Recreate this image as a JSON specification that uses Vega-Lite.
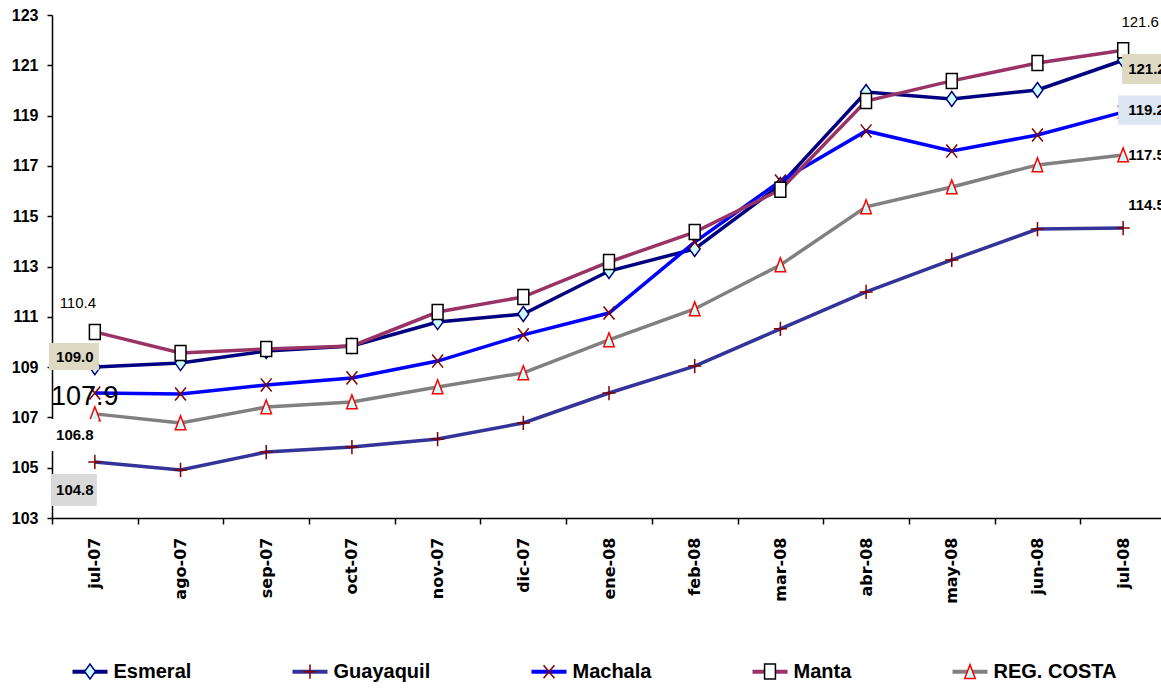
{
  "$schema": "https://vega.github.io/schema/vega-lite/v6.json",
  "width": 1109,
  "height": 503,
  "autosize": {"type": "none"},
  "padding": {"left": 52, "top": 15, "right": 0, "bottom": 170},
  "background": "white",
  "config": {
    "view": {"stroke": null},
    "axis": {"grid": false, "title": null, "domainColor": "black", "tickColor": "black", "labelColor": "black", "domainWidth": 1.5, "tickWidth": 1.5},
    "legend": {"orient": "none", "legendX": 18.5, "legendY": 637, "direction": "horizontal", "title": null, "labelFont": "Liberation Sans", "labelFontWeight": "bold", "labelFontSize": 20, "labelColor": "black", "labelOffset": 4, "columnPadding": 99, "padding": 0, "labelLimit": 300}
  },
  "datasets": {
    "series": [
      {"month": "jul-07", "series": "Esmeral", "value": 109.0},
      {"month": "ago-07", "series": "Esmeral", "value": 109.16},
      {"month": "sep-07", "series": "Esmeral", "value": 109.64},
      {"month": "oct-07", "series": "Esmeral", "value": 109.84},
      {"month": "nov-07", "series": "Esmeral", "value": 110.79},
      {"month": "dic-07", "series": "Esmeral", "value": 111.11},
      {"month": "ene-08", "series": "Esmeral", "value": 112.82},
      {"month": "feb-08", "series": "Esmeral", "value": 113.7},
      {"month": "mar-08", "series": "Esmeral", "value": 116.24},
      {"month": "abr-08", "series": "Esmeral", "value": 119.94},
      {"month": "may-08", "series": "Esmeral", "value": 119.66},
      {"month": "jun-08", "series": "Esmeral", "value": 120.02},
      {"month": "jul-08", "series": "Esmeral", "value": 121.2},
      {"month": "jul-07", "series": "Guayaquil", "value": 105.23},
      {"month": "ago-07", "series": "Guayaquil", "value": 104.91},
      {"month": "sep-07", "series": "Guayaquil", "value": 105.62},
      {"month": "oct-07", "series": "Guayaquil", "value": 105.82},
      {"month": "nov-07", "series": "Guayaquil", "value": 106.14},
      {"month": "dic-07", "series": "Guayaquil", "value": 106.78},
      {"month": "ene-08", "series": "Guayaquil", "value": 107.97},
      {"month": "feb-08", "series": "Guayaquil", "value": 109.04},
      {"month": "mar-08", "series": "Guayaquil", "value": 110.52},
      {"month": "abr-08", "series": "Guayaquil", "value": 111.99},
      {"month": "may-08", "series": "Guayaquil", "value": 113.26},
      {"month": "jun-08", "series": "Guayaquil", "value": 114.49},
      {"month": "jul-08", "series": "Guayaquil", "value": 114.53},
      {"month": "jul-07", "series": "Machala", "value": 107.97},
      {"month": "ago-07", "series": "Machala", "value": 107.93},
      {"month": "sep-07", "series": "Machala", "value": 108.29},
      {"month": "oct-07", "series": "Machala", "value": 108.57},
      {"month": "nov-07", "series": "Machala", "value": 109.24},
      {"month": "dic-07", "series": "Machala", "value": 110.28},
      {"month": "ene-08", "series": "Machala", "value": 111.15},
      {"month": "feb-08", "series": "Machala", "value": 113.97},
      {"month": "mar-08", "series": "Machala", "value": 116.4},
      {"month": "abr-08", "series": "Machala", "value": 118.39},
      {"month": "may-08", "series": "Machala", "value": 117.59},
      {"month": "jun-08", "series": "Machala", "value": 118.23},
      {"month": "jul-08", "series": "Machala", "value": 119.14},
      {"month": "jul-07", "series": "Manta", "value": 110.4},
      {"month": "ago-07", "series": "Manta", "value": 109.56},
      {"month": "sep-07", "series": "Manta", "value": 109.72},
      {"month": "oct-07", "series": "Manta", "value": 109.84},
      {"month": "nov-07", "series": "Manta", "value": 111.19},
      {"month": "dic-07", "series": "Manta", "value": 111.79},
      {"month": "ene-08", "series": "Manta", "value": 113.18},
      {"month": "feb-08", "series": "Manta", "value": 114.37},
      {"month": "mar-08", "series": "Manta", "value": 116.05},
      {"month": "abr-08", "series": "Manta", "value": 119.58},
      {"month": "may-08", "series": "Manta", "value": 120.38},
      {"month": "jun-08", "series": "Manta", "value": 121.09},
      {"month": "jul-08", "series": "Manta", "value": 121.6},
      {"month": "jul-07", "series": "REG. COSTA", "value": 107.14},
      {"month": "ago-07", "series": "REG. COSTA", "value": 106.78},
      {"month": "sep-07", "series": "REG. COSTA", "value": 107.41},
      {"month": "oct-07", "series": "REG. COSTA", "value": 107.61},
      {"month": "nov-07", "series": "REG. COSTA", "value": 108.21},
      {"month": "dic-07", "series": "REG. COSTA", "value": 108.77},
      {"month": "ene-08", "series": "REG. COSTA", "value": 110.08},
      {"month": "feb-08", "series": "REG. COSTA", "value": 111.31},
      {"month": "mar-08", "series": "REG. COSTA", "value": 113.06},
      {"month": "abr-08", "series": "REG. COSTA", "value": 115.37},
      {"month": "may-08", "series": "REG. COSTA", "value": 116.16},
      {"month": "jun-08", "series": "REG. COSTA", "value": 117.04},
      {"month": "jul-08", "series": "REG. COSTA", "value": 117.43}
    ],
    "labels": [
      {"month": "jul-07", "pos": 111.55, "label": "110.4"},
      {"month": "jul-07", "pos": 109.42, "label": "109.0"},
      {"month": "jul-07", "pos": 107.81, "label": "107.9"},
      {"month": "jul-07", "pos": 106.3, "label": "106.8"},
      {"month": "jul-07", "pos": 104.11, "label": "104.8"},
      {"month": "jul-08", "pos": 122.72, "label": "121.6"},
      {"month": "jul-08", "pos": 120.85, "label": "121.2"},
      {"month": "jul-08", "pos": 119.22, "label": "119.2"},
      {"month": "jul-08", "pos": 117.43, "label": "117.5"},
      {"month": "jul-08", "pos": 115.45, "label": "114.5"}
    ]
  },
  "encoding": {
    "x": {
      "field": "month", "type": "ordinal",
      "sort": ["jul-07","ago-07","sep-07","oct-07","nov-07","dic-07","ene-08","feb-08","mar-08","abr-08","may-08","jun-08","jul-08"],
      "scale": {"type": "band", "paddingInner": 0, "paddingOuter": 0, "range": [0, 1114]},
      "axis": {"labelAngle": -90, "labelFont": "DejaVu Sans", "labelFontWeight": "bold", "labelFontSize": 16, "tickBand": "extent", "tickSize": 6, "labelPadding": 13}
    }
  },
  "layer": [
    {
      "data": {"name": "series"},
      "mark": {"type": "line", "strokeWidth": 3.5},
      "encoding": {
        "y": {"field": "value", "type": "quantitative", "scale": {"domain": [103, 123], "nice": false, "zero": false},
              "axis": {"values": [103,105,107,109,111,113,115,117,119,121,123], "labelFont": "Liberation Sans", "labelFontWeight": "bold", "labelFontSize": 16, "tickSize": 5, "labelPadding": 9}},
        "color": {"field": "series", "type": "nominal",
          "scale": {"range": ["#000080","#333399","#0000FF","#993366","#808080"]},
          "legend": {"symbolType": "stroke", "symbolSize": 1225, "symbolStrokeWidth": 4, "columnPadding": 93}}
      }
    },
    {
      "data": {"name": "series"},
      "mark": {"type": "point", "size": 1406, "strokeWidth": 1.5, "opacity": 1, "filled": true},
      "encoding": {
        "y": {"field": "value", "type": "quantitative"},
        "shape": {"field": "series", "type": "nominal",
          "scale": {"domain": ["Esmeral","Guayaquil","Machala","Manta","REG. COSTA"],
                    "range": ["M0,-0.4L0.29,0L0,0.4L-0.29,0Z", "M-0.35,0H0.35M0,-0.38V0.38", "M-0.29,-0.35L0.29,0.35M-0.29,0.35L0.29,-0.35", "M-0.29,-0.4H0.29V0.4H-0.29Z", "M0,-0.38L0.28,0.36H-0.28Z"]},
          "legend": {"symbolSize": 1406, "symbolStrokeWidth": 1.5, "labelOpacity": 0}},
        "stroke": {"field": "series", "type": "nominal",
          "scale": {"domain": ["Esmeral","Guayaquil","Machala","Manta","REG. COSTA"], "range": ["#000080","#800000","#800000","#000000","#FF0000"]},
          "legend": {"symbolSize": 1406, "symbolStrokeWidth": 1.5, "labelOpacity": 0}},
        "fill": {"field": "series", "type": "nominal",
          "scale": {"domain": ["Esmeral","Guayaquil","Machala","Manta","REG. COSTA"], "range": ["#CCFFFF","#800000","#800000","#FFFFFF","#CCFFFF"]},
          "legend": {"symbolSize": 1406, "symbolStrokeWidth": 1.5, "labelOpacity": 0}}
      }
    },
    {
      "data": {"name": "labels"},
      "transform": [{"filter": {"field": "label", "equal": "106.8"}}],
      "mark": {"type": "point", "shape": "M-1,-0.58H1V0.58H-1Z", "size": 3025, "filled": true, "fill": "white", "strokeWidth": 0, "opacity": 1, "xOffset": -24},
      "encoding": {"y": {"field": "pos", "type": "quantitative"}}
    },
    {
      "data": {"name": "labels"},
      "transform": [{"filter": {"field": "label", "equal": "109.0"}}],
      "mark": {"type": "point", "shape": "M-1,-0.54H1V0.54H-1Z", "size": 2500, "filled": true, "fill": "#DDD9C3", "strokeWidth": 0, "opacity": 1, "xOffset": -21},
      "encoding": {"y": {"field": "pos", "type": "quantitative"}}
    },
    {
      "data": {"name": "labels"},
      "transform": [{"filter": {"field": "label", "equal": "104.8"}}],
      "mark": {"type": "point", "shape": "M-0.92,-0.64H0.92V0.64H-0.92Z", "size": 2500, "filled": true, "fill": "#D9D9D9", "strokeWidth": 0, "opacity": 1, "xOffset": -21},
      "encoding": {"y": {"field": "pos", "type": "quantitative"}}
    },
    {
      "data": {"name": "labels"},
      "transform": [{"filter": {"field": "label", "equal": "121.2"}}],
      "mark": {"type": "point", "shape": "M-0.92,-0.6H0.92V0.6H-0.92Z", "size": 2500, "filled": true, "fill": "#DDD9C3", "strokeWidth": 0, "opacity": 1, "xOffset": 22},
      "encoding": {"y": {"field": "pos", "type": "quantitative"}}
    },
    {
      "data": {"name": "labels"},
      "transform": [{"filter": {"field": "label", "equal": "119.2"}}],
      "mark": {"type": "point", "shape": "M-1,-0.56H1V0.56H-1Z", "size": 2704, "filled": true, "fill": "#DCE6F2", "strokeWidth": 0, "opacity": 1, "xOffset": 21},
      "encoding": {"y": {"field": "pos", "type": "quantitative"}}
    },
    {
      "data": {"name": "labels"},
      "transform": [{"filter": {"field": "label", "oneOf": ["109.0", "106.8", "104.8"]}}],
      "mark": {"type": "text", "font": "Liberation Sans", "fontWeight": "bold", "fontSize": 15, "align": "center", "baseline": "middle", "dx": -20, "color": "black"},
      "encoding": {"y": {"field": "pos", "type": "quantitative"}, "text": {"field": "label"}}
    },
    {
      "data": {"name": "labels"},
      "transform": [{"filter": {"field": "label", "equal": "110.4"}}],
      "mark": {"type": "text", "font": "Liberation Sans", "fontSize": 15, "align": "center", "baseline": "middle", "dx": -17, "color": "black"},
      "encoding": {"y": {"field": "pos", "type": "quantitative"}, "text": {"field": "label"}}
    },
    {
      "data": {"name": "labels"},
      "transform": [{"filter": {"field": "label", "equal": "107.9"}}],
      "mark": {"type": "text", "font": "Liberation Sans", "fontSize": 27, "align": "center", "baseline": "middle", "dx": -10, "color": "black"},
      "encoding": {"y": {"field": "pos", "type": "quantitative"}, "text": {"field": "label"}}
    },
    {
      "data": {"name": "labels"},
      "transform": [{"filter": {"field": "label", "equal": "121.6"}}],
      "mark": {"type": "text", "font": "Liberation Sans", "fontSize": 15, "align": "center", "baseline": "middle", "dx": 17, "color": "black"},
      "encoding": {"y": {"field": "pos", "type": "quantitative"}, "text": {"field": "label"}}
    },
    {
      "data": {"name": "labels"},
      "transform": [{"filter": {"field": "label", "oneOf": ["121.2", "119.2", "117.5", "114.5"]}}],
      "mark": {"type": "text", "font": "Liberation Sans", "fontWeight": "bold", "fontSize": 15, "align": "left", "baseline": "middle", "dx": 5, "color": "black"},
      "encoding": {"y": {"field": "pos", "type": "quantitative"}, "text": {"field": "label"}}
    }
  ]
}
